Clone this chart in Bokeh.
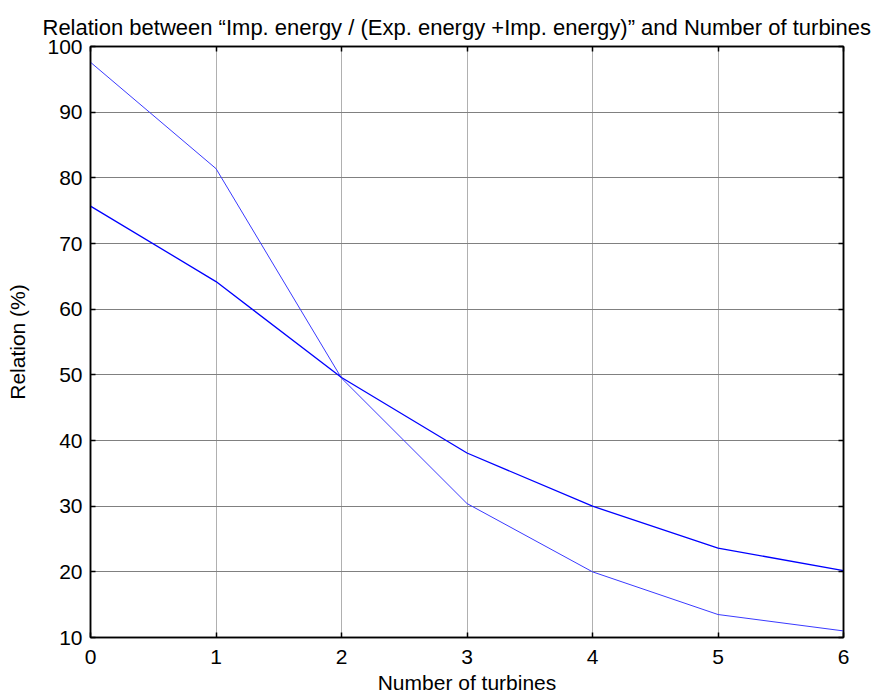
from bokeh.plotting import figure
from bokeh.embed import file_html
from bokeh.resources import INLINE
from bokeh.models import LinearAxis, FixedTicker, Range1d

# ---- data ----
turbines = [0, 1, 2, 3, 4, 5, 6]
relation_a = [97.6, 81.4, 49.5, 30.4, 20.0, 13.5, 11.0]
relation_b = [75.7, 64.2, 49.6, 38.1, 30.0, 23.6, 20.2]
x_ticks = [0, 1, 2, 3, 4, 5, 6]
y_ticks = [10, 20, 30, 40, 50, 60, 70, 80, 90, 100]

title_text = "Relation between \u201cImp. energy / (Exp. energy +Imp. energy)\u201d and Number of turbines"
FONT = "Liberation Sans"

p = figure(width=888, height=698, output_backend="svg", toolbar_location=None,
           x_range=Range1d(0, 6), y_range=Range1d(10, 100),
           min_border_left=90, min_border_right=45, min_border_top=46, min_border_bottom=61)
p.background_fill_color = "white"
p.border_fill_color = "white"
p.outline_line_color = "black"
p.outline_line_width = 1.5

p.title.text = title_text
p.title.align = "left"
p.title.offset = -48
p.title.text_font = FONT
p.title.text_font_size = "22px"
p.title.text_font_style = "normal"
p.title.text_color = "black"
p.title.standoff = 14

p.line(turbines, relation_a, line_color="#3a3aff", line_width=1)
p.line(turbines, relation_b, line_color="#0000ff", line_width=1.3)

# grids
p.xgrid.ticker = FixedTicker(ticks=x_ticks)
p.ygrid.ticker = FixedTicker(ticks=y_ticks)
p.xgrid.grid_line_color = "#b0b0b0"
p.ygrid.grid_line_color = "#808080"
p.xgrid.grid_line_width = 1
p.ygrid.grid_line_width = 1

def style_axis(ax):
    ax.axis_line_color = "black"
    ax.axis_line_width = 1.5
    ax.major_tick_in = 5
    ax.major_tick_out = 0
    ax.minor_tick_in = 0
    ax.minor_tick_out = 0
    ax.major_tick_line_color = "black"
    ax.major_tick_line_width = 1.5
    ax.major_label_text_font = FONT
    ax.major_label_text_font_size = "21px"
    ax.major_label_text_color = "black"
    ax.axis_label_text_font = FONT
    ax.axis_label_text_font_size = "21px"
    ax.axis_label_text_font_style = "normal"
    ax.axis_label_text_color = "black"

xa = p.xaxis[0]
xa.ticker = FixedTicker(ticks=x_ticks)
style_axis(xa)
xa.axis_label = "Number of turbines"
xa.major_label_standoff = 12
xa.axis_label_standoff = 4
xa.axis_label_text_line_height = 1.0

ya = p.yaxis[0]
ya.ticker = FixedTicker(ticks=y_ticks)
style_axis(ya)
ya.axis_label = "Relation (%)"
ya.major_label_standoff = 8
ya.axis_label_standoff = 15

top = LinearAxis(ticker=FixedTicker(ticks=x_ticks))
style_axis(top)
top.major_label_overrides = {t: "" for t in x_ticks}
top.major_label_standoff = 0
top.major_label_text_font_size = "1px"
p.add_layout(top, "above")

right = LinearAxis(ticker=FixedTicker(ticks=y_ticks))
style_axis(right)
right.major_label_overrides = {t: "" for t in y_ticks}
right.major_label_standoff = 0
right.major_label_text_font_size = "1px"
p.add_layout(right, "right")

open("out.html", "w").write(file_html(p, INLINE))
